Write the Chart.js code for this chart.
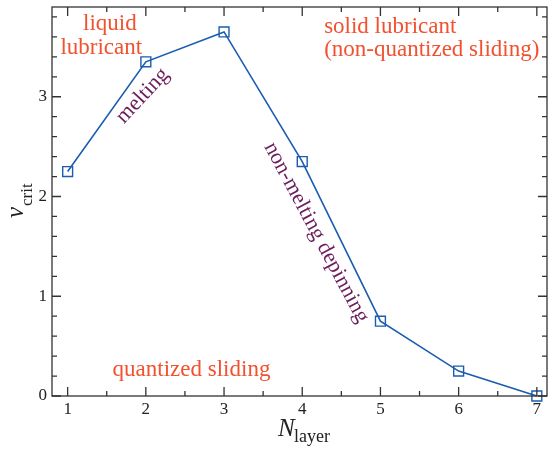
<!DOCTYPE html>
<html>
<head>
<meta charset="utf-8">
<script src="https://cdn.jsdelivr.net/npm/chart.js@4.4.0/dist/chart.umd.min.js"></script>
<style>
  html, body { margin: 0; padding: 0; background: #fff; }
  #box { width: 551px; height: 451px; position: relative; }
</style>
</head>
<body>
<div id="box"><canvas id="graph-canvas"></canvas></div>
<script>
const layers = [1, 2, 3, 4, 5, 6, 7];
const vcrit = [2.25, 3.35, 3.65, 2.35, 0.75, 0.25, 0.0];
const xTicks = [1, 2, 3, 4, 5, 6, 7];
const yTicks = [0, 1, 2, 3];

const red = '#f2512f';
const purple = '#6b1d5c';
const blue = '#1a5cb0';
const serif = '"Liberation Serif", "DejaVu Serif", serif';

// annotation texts in data coordinates
const notes = [
    { text: 'liquid', x: 1.54, y: 3.73, color: red, align: 'center', rot: 0, size: 23 },
    { text: 'lubricant', x: 1.43, y: 3.49, color: red, align: 'center', rot: 0, size: 23 },
    { text: 'solid lubricant', x: 4.28, y: 3.70, color: red, align: 'left', rot: 0, size: 23 },
    { text: '(non-quantized sliding)', x: 4.28, y: 3.47, color: red, align: 'left', rot: 0, size: 23 },
    { text: 'quantized sliding', x: 1.575, y: 0.26, color: red, align: 'left', rot: 0, size: 23 },
    { text: 'melting', x: 1.96, y: 3.01, color: purple, align: 'center', rot: -47, size: 22 },
    { text: 'non-melting depinning', x: 4.18, y: 1.64, color: purple, align: 'center', rot: 62, size: 22 }
];

const framePlugin = {
    id: 'frame',
    afterDraw(chart) {
        const c = chart.ctx, a = chart.chartArea;
        const xs = chart.scales.x, ys = chart.scales.y;
        c.save();
        c.strokeStyle = '#333';
        c.lineWidth = 1.3;
        c.strokeRect(a.left, a.top, a.right - a.left, a.bottom - a.top);
        c.beginPath();
        // x ticks, major every 1, minor every 0.5
        for (var v = 1; v <= 7.01; v += 0.5) {
            const px = xs.getPixelForValue(v);
            const len = (Math.abs(v - Math.round(v)) < 1e-6) ? 9 : 5;
            c.moveTo(px, a.bottom); c.lineTo(px, a.bottom - len);
            c.moveTo(px, a.top); c.lineTo(px, a.top + len);
        }
        // y ticks, major every 1, minor every 0.2
        for (var i = 0; i <= 19; i++) {
            const v = i * 0.2;
            const py = ys.getPixelForValue(v);
            const len = (i % 5 === 0) ? 9 : 5;
            c.moveTo(a.left, py); c.lineTo(a.left + len, py);
            c.moveTo(a.right, py); c.lineTo(a.right - len, py);
        }
        c.stroke();

        // annotations
        c.textBaseline = 'middle';
        notes.forEach(function (n) {
            c.save();
            c.translate(xs.getPixelForValue(n.x), ys.getPixelForValue(n.y));
            c.rotate(n.rot * Math.PI / 180);
            c.font = n.size + 'px ' + serif;
            c.fillStyle = n.color;
            c.textAlign = n.align;
            c.fillText(n.text, 0, 0);
            c.restore();
        });

        // axis titles with subscripts
        c.fillStyle = '#222';
        c.textAlign = 'left';
        c.textBaseline = 'alphabetic';
        c.font = 'italic 25px ' + serif;
        c.fillText('N', 278, 436);
        c.font = '18px ' + serif;
        c.fillText('layer', 294, 442);

        c.save();
        c.translate(23, 218);
        c.rotate(-Math.PI / 2);
        c.font = 'italic 25px ' + serif;
        c.fillText('v', 0, 0);
        c.font = '17px ' + serif;
        c.fillText('crit', 12, 9);
        c.restore();
        c.restore();
    }
};

var chart = new Chart(document.getElementById('graph-canvas'),
    {
    type: 'line',
    data:
    {
        labels: layers,
        datasets:
        [{
            data: layers.map(function (x, i) { return { x: x, y: vcrit[i] }; }),
            borderColor: blue,
            borderWidth: 1.6,
            backgroundColor: 'rgba(0,0,0,0)',
            pointStyle: 'rect',
            pointRadius: 7,
            pointBorderWidth: 1.4,
            pointBorderColor: blue,
            pointBackgroundColor: 'rgba(0,0,0,0)',
            tension: 0,
            clip: false
        }]
    },
    options:
    {
        responsive: true,
        maintainAspectRatio: false,
        animation: false,
        layout: { autoPadding: false, padding: { top: 7, right: 4, left: 0, bottom: 0 } },
        plugins: { legend: { display: false }, tooltip: { enabled: false } },
        scales:
        {
            x:
            {
                type: 'linear',
                min: 0.8,
                max: 7.13,
                afterBuildTicks: function (s) { s.ticks = xTicks.map(function (v) { return { value: v }; }); },
                afterFit: function (s) { s.height = 55; s.paddingLeft = 0; s.paddingRight = 0; },
                grid: { display: false, drawTicks: false },
                border: { display: false },
                ticks: { color: '#222', padding: 3, maxRotation: 0, font: { family: serif, size: 17 } }
            },
            y:
            {
                min: 0,
                max: 3.9,
                afterBuildTicks: function (s) { s.ticks = yTicks.map(function (v) { return { value: v }; }); },
                afterFit: function (s) { s.width = 52; s.paddingTop = 0; s.paddingBottom = 0; },
                grid: { display: false, drawTicks: false },
                border: { display: false },
                ticks: { color: '#222', padding: 5, font: { family: serif, size: 17 } }
            }
        }
    },
    plugins: [framePlugin]
});
</script>
</body>
</html>
